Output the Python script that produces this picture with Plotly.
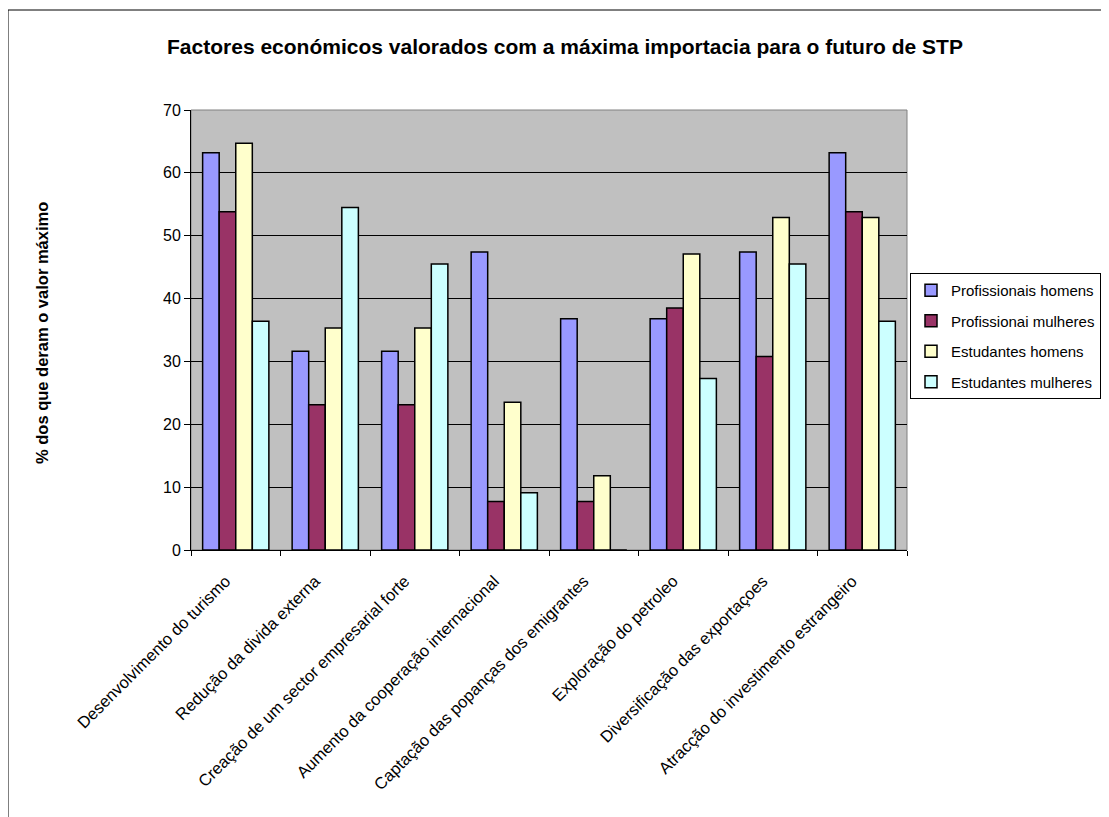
import plotly.graph_objects as go

categories = [
    "Desenvolvimento do turismo",
    "Redução da divida externa",
    "Creação de um sector empresarial forte",
    "Aumento da cooperação internacional",
    "Captação das popanças dos emigrantes",
    "Exploração do petroleo",
    "Diversificação das exportaçoes",
    "Atracção do investimento estrangeiro",
]
series_names = ["Profissionais homens", "Profissionai mulheres", "Estudantes homens", "Estudantes mulheres"]
prof_homens = [63.2, 31.6, 31.6, 47.4, 36.8, 36.8, 47.4, 63.2]
prof_mulheres = [53.8, 23.1, 23.1, 7.7, 7.7, 38.5, 30.8, 53.8]
est_homens = [64.7, 35.3, 35.3, 23.5, 11.8, 47.1, 52.9, 52.9]
est_mulheres = [36.4, 54.5, 45.5, 9.1, 0, 27.3, 45.5, 36.4]
colors = ["#9999FF", "#993366", "#FFFFCC", "#CCFFFF"]

FONT = "Arial, Liberation Sans, sans-serif"
OFF = 8  # page body margin
W, H = 1140, 809
# plot area in page pixel coordinates
L, R, T, B = 191, 907, 110, 550

fig = go.Figure()
for name, vals, c in zip(series_names, [prof_homens, prof_mulheres, est_homens, est_mulheres], colors):
    fig.add_trace(go.Bar(
        x=categories, y=vals, name=name, legendgroup=name,
        marker=dict(color=c, line=dict(color="black", width=1.5)),
    ))

def px_x(p):
    return (p - L) / (R - L)

def px_y(p):
    return (B - p) / (B - T)

ml = L - OFF
mt = T - OFF
mr = W - ml - (R - L)
mb = H - mt - (B - T)

fig.update_layout(
    width=W, height=H,
    margin=dict(l=ml, r=mr, t=mt, b=mb),
    paper_bgcolor="white",
    plot_bgcolor="#C0C0C0",
    barmode="group",
    bargap=0.26,
    bargroupgap=0,
    font=dict(family=FONT, color="black", size=15),
    title=dict(
        text="<b>Factores económicos valorados com a máxima importacia para o futuro de STP</b>",
        x=px_x(565), xref="paper", xanchor="center",
        y=1 - (47 - OFF) / H, yref="container", yanchor="middle",
        font=dict(family=FONT, size=21, color="black"),
    ),
    legend=dict(
        x=px_x(910), y=px_y(273), xanchor="left", yanchor="top",
        bgcolor="white", bordercolor="black", borderwidth=1,
        font=dict(family=FONT, size=15, color="black"),
        tracegroupgap=8, itemwidth=30,
    ),
    xaxis=dict(
        type="category", tickangle=-45, tickson="boundaries",
        ticks="outside", ticklen=5, tickcolor="black",
        showline=True, linecolor="black", linewidth=1,
        tickfont=dict(family=FONT, size=16.5, color="black"),
        ticklabelstandoff=14, ticklabelshift=-10,
        showgrid=False,
    ),
    yaxis=dict(
        range=[0, 70], dtick=10, ticks="outside", ticklen=6, tickcolor="black",
        showline=True, linecolor="black", linewidth=1,
        showgrid=True, gridcolor="black", gridwidth=1,
        tickfont=dict(family=FONT, size=16, color="black"),
        zeroline=False,
    ),
    shapes=[
        dict(type="rect", xref="paper", yref="paper", x0=0, x1=1, y0=0, y1=1,
             line=dict(color="#808080", width=1), fillcolor="rgba(0,0,0,0)", layer="below"),
        dict(type="rect", xref="paper", yref="paper",
             x0=px_x(8), x1=px_x(1160), y0=px_y(840), y1=px_y(10),
             line=dict(color="black", width=1), fillcolor="rgba(0,0,0,0)"),
    ],
    annotations=[
        dict(text="<b>% dos que deram o valor máximo</b>", textangle=-90,
             xref="paper", yref="paper", x=px_x(42), y=px_y(333),
             xanchor="center", yanchor="middle", showarrow=False,
             font=dict(family=FONT, size=16.5, color="black")),
    ],
)

fig.write_html("out.html")
